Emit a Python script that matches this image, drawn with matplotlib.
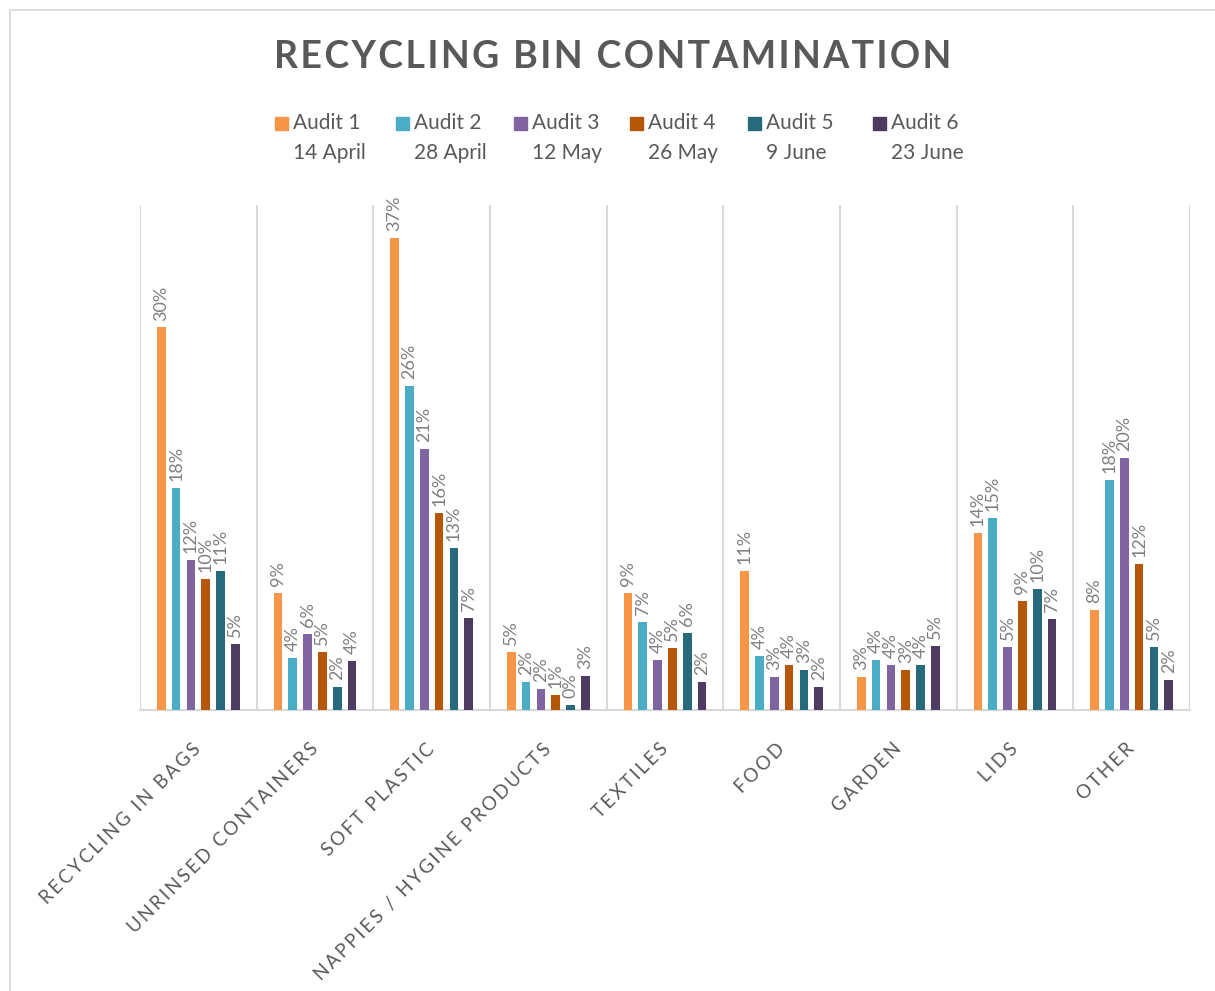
import matplotlib.pyplot as plt
from matplotlib.patches import Rectangle
import numpy as np

categories = ["RECYCLING IN BAGS", "UNRINSED CONTAINERS", "SOFT PLASTIC",
              "NAPPIES / HYGINE PRODUCTS", "TEXTILES", "FOOD", "GARDEN", "LIDS", "OTHER"]
audits = ["Audit 1", "Audit 2", "Audit 3", "Audit 4", "Audit 5", "Audit 6"]
dates = ["14 April", "28 April", "12 May", "26 May", "9 June", "23 June"]

# percent of contamination, one list per audit (same order as categories)
audit1 = [30.3, 9.3, 37.4, 4.6, 9.3, 11.0, 2.6, 14.0, 7.9]
audit2 = [17.6, 4.1, 25.7, 2.2, 7.0, 4.3, 4.0, 15.2, 18.2]
audit3 = [11.9, 6.0, 20.7, 1.7, 4.0, 2.6, 3.6, 5.0, 20.0]
audit4 = [10.4, 4.6, 15.6, 1.2, 4.9, 3.6, 3.2, 8.6, 11.6]
audit5 = [11.0, 1.8, 12.8, 0.4, 6.1, 3.2, 3.6, 9.6, 5.0]
audit6 = [5.2, 3.9, 7.3, 2.7, 2.2, 1.8, 5.1, 7.2, 2.4]
series = [audit1, audit2, audit3, audit4, audit5, audit6]

colors = ["#F79646", "#4BACC6", "#8064A2", "#B65708", "#276A7C", "#4D3B62"]
FONT = ["Lato", "DejaVu Sans"]
plt.rcParams["font.family"] = FONT


def spaced(s, sep="\u200a"):
    return sep.join(s)


fig = plt.figure(figsize=(12.15, 9.91), dpi=100)
ax = fig.add_axes([140 / 1215, 1 - 710 / 991, 1050 / 1215, 505 / 991])

x = np.arange(len(categories))
step, width = 0.127, 0.074
for j, (vals, c) in enumerate(zip(series, colors)):
    pos = x + (j - 2.5) * step
    bars = ax.bar(pos, vals, width, color=c, zorder=3)
    for b, v in zip(bars, vals):
        ax.annotate(f"{v:.0f}%", (b.get_x() + b.get_width() / 2, v),
                    xytext=(0, 5), textcoords="offset points",
                    rotation=90, ha="center", va="bottom",
                    fontsize=13, color="#808080")

ax.set_xlim(-0.5, len(categories) - 0.5)
ax.set_ylim(0, 40)
ax.set_yticks([])
ax.set_xticks(x)
ax.set_xticklabels([spaced(c, "\u2009") for c in categories], rotation=45, ha="right",
                   va="center", rotation_mode="anchor", fontsize=13.5, color="#595959")
ax.tick_params(axis="x", length=0, pad=26)
ax.set_xticks(np.arange(-0.5, len(categories)), minor=True)
ax.tick_params(axis="x", which="minor", length=0)
ax.grid(axis="x", which="minor", color="#d9d9d9", lw=1.5, zorder=0)
for s in ["top", "right", "left"]:
    ax.spines[s].set_visible(False)
ax.spines["bottom"].set_color("#d9d9d9")
ax.spines["bottom"].set_linewidth(1.5)

fig.text(613 / 1215, 1 - 57 / 991, spaced("RECYCLING BIN CONTAMINATION"),
         ha="center", va="center", fontsize=27, fontweight="bold", color="#595959")

# legend
leg_x = [275, 396, 514, 630, 748, 873]
for lx, name, d, c in zip(leg_x, audits, dates, colors):
    fig.add_artist(Rectangle((lx / 1215, 1 - 130 / 991), 13 / 1215, 13 / 991,
                             transform=fig.transFigure, color=c))
    fig.text((lx + 18) / 1215, 1 - 123 / 991, name, ha="left", va="center",
             fontsize=15, color="#595959")
    fig.text((lx + 18) / 1215, 1 - 153 / 991, d, ha="left", va="center",
             fontsize=15, color="#595959")

fig.add_artist(Rectangle((10 / 1215, -0.05), 1.1, 1.05 - 10 / 991,
                         transform=fig.transFigure, fill=False,
                         edgecolor="#d9d9d9", lw=1.2))

plt.savefig("out.png", dpi=100)
plt.close()
